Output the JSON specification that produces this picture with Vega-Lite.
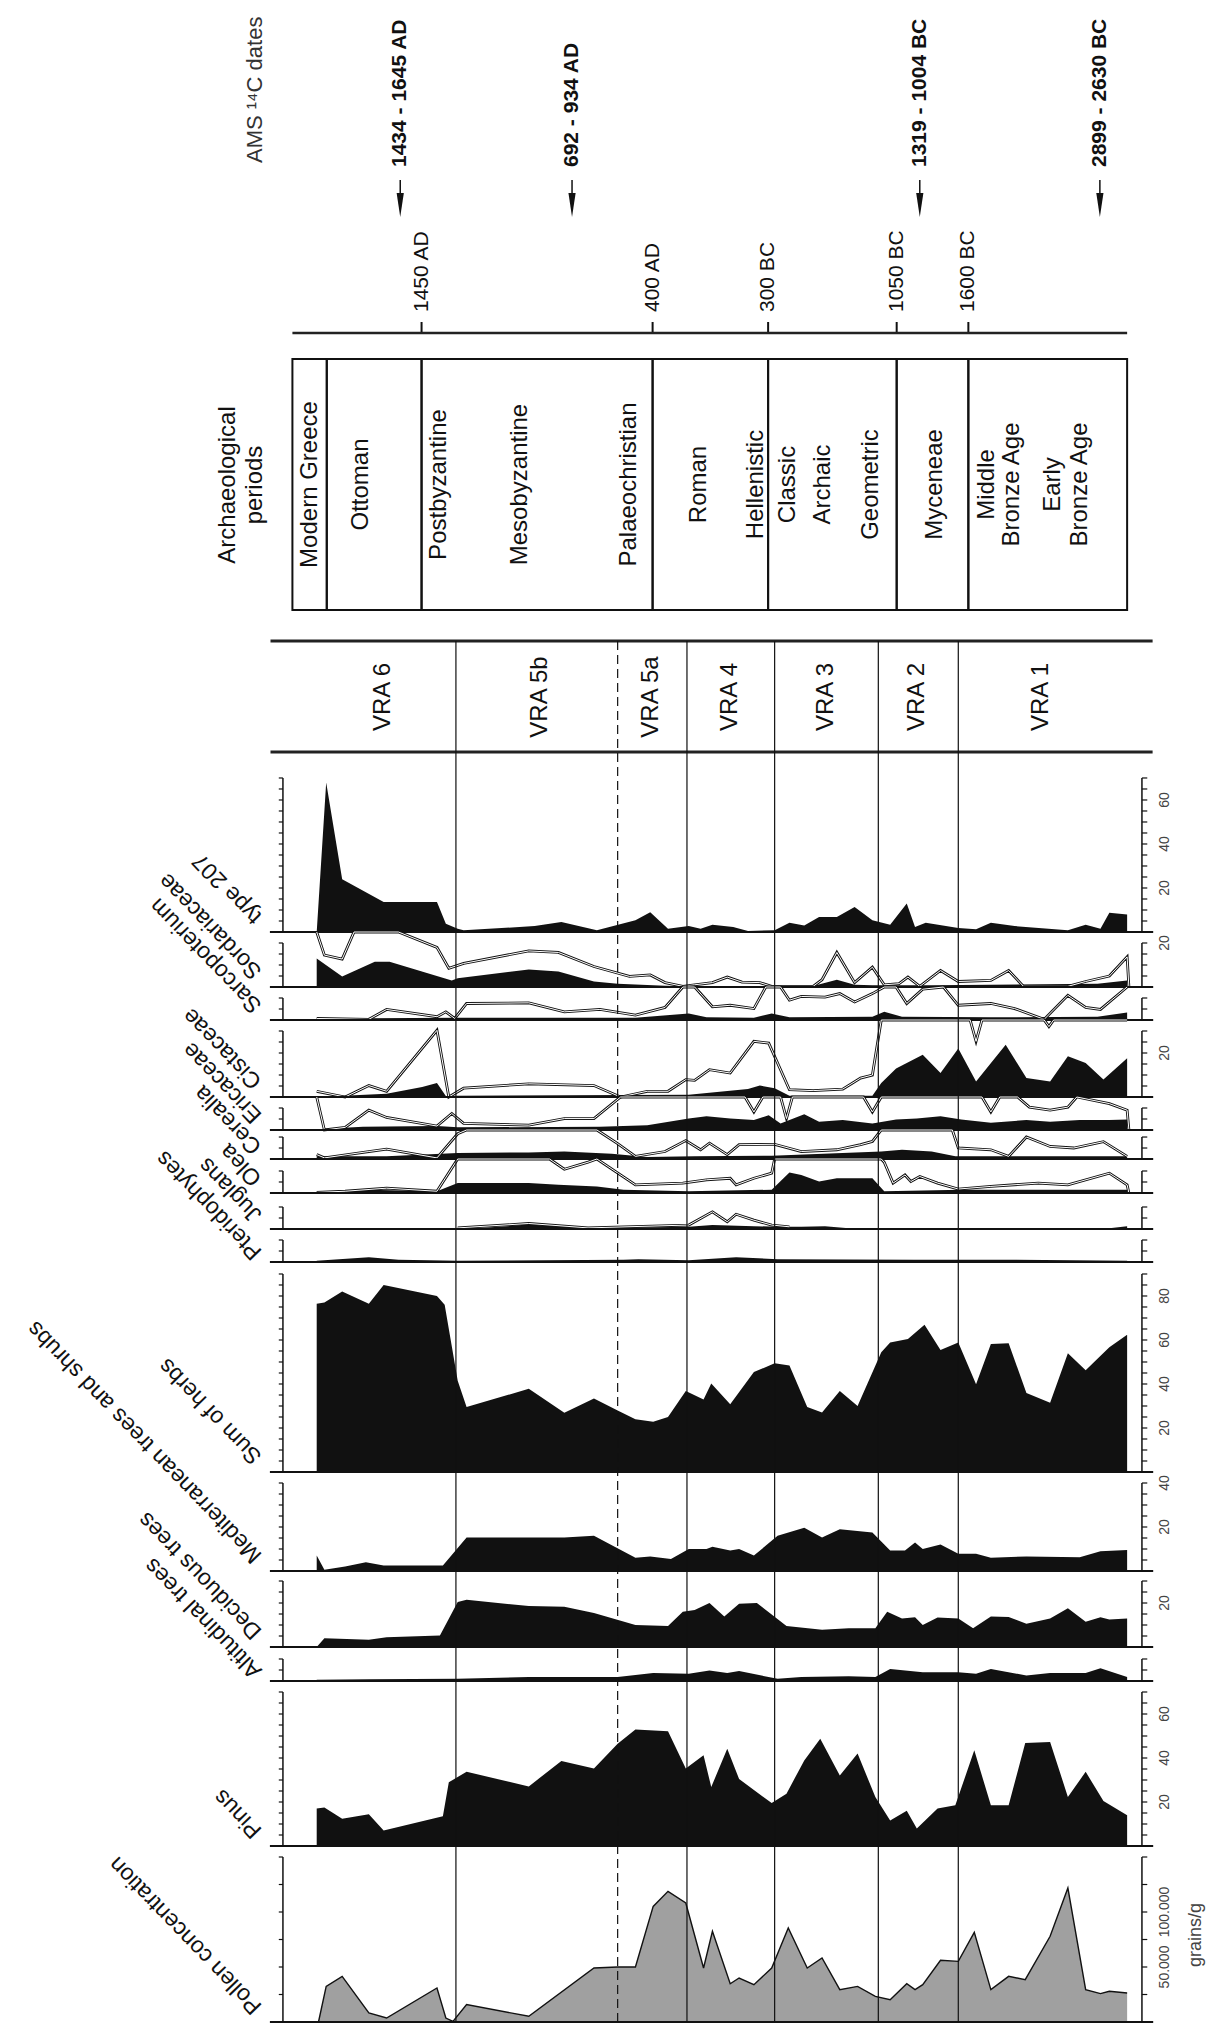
{
"$schema": "https://vega.github.io/schema/vega-lite/v6.json",
"width": 1209,
"height": 2026,
"autosize": {"type": "none"},
"padding": 0,
"background": "white",
"config": {"view": {"stroke": null}, "font": "Liberation Sans", "axis": {"disable": true}, "legend": {"disable": true}},
"resolve": {"scale": {"y": "independent"}},
"datasets": {
"zones": [{"d":297,"s":"solid"},{"d":570,"s":"dashed"},{"d":687,"s":"solid"},{"d":835,"s":"solid"},{"d":1010,"s":"solid"},{"d":1145,"s":"solid"}],
"dates": [{"t":"1434 - 1645 AD","d":203},{"t":"692 - 934 AD","d":493},{"t":"1319 - 1004 BC","d":1080},{"t":"2899 - 2630 BC","d":1384}],
"ages": [{"t":"1450 AD","d":239},{"t":"400 AD","d":629},{"t":"300 BC","d":824},{"t":"1050 BC","d":1041},{"t":"1600 BC","d":1162}],
"cells": [{"c1":21,"c2":79},{"c1":79,"c2":239},{"c1":239,"c2":629},{"c1":629,"c2":824},{"c1":824,"c2":1041},{"c1":1041,"c2":1162},{"c1":1162,"c2":1430}],
"periods": [{"t":"Modern Greece","d":50},{"t":"Ottoman","d":137},{"t":"Postbyzantine","d":269},{"t":"Mesobyzantine","d":406},{"t":"Palaeochristian","d":590},{"t":"Roman","d":708},{"t":"Hellenistic","d":804},{"t":"Classic","d":857},{"t":"Archaic","d":917},{"t":"Geometric","d":998},{"t":"Myceneae","d":1106},{"t":"Middle","d":1193},{"t":"Bronze Age","d":1236},{"t":"Early","d":1305},{"t":"Bronze Age","d":1350}],
"heads": [{"t":"Archaeological","d":-88},{"t":"periods","d":-42}],
"vra": [{"t":"VRA 6","d":174},{"t":"VRA 5b","d":439},{"t":"VRA 5a","d":627},{"t":"VRA 4","d":759},{"t":"VRA 3","d":922},{"t":"VRA 2","d":1075},{"t":"VRA 1","d":1285}],
"area": [
{"p":"t207","d":62,"v":0},{"p":"t207","d":78,"v":68},{"p":"t207","d":105,"v":24},{"p":"t207","d":175,"v":13.6},{"p":"t207","d":265,"v":13.6},{"p":"t207","d":280,"v":3.8},{"p":"t207","d":300,"v":1.5},{"p":"t207","d":310,"v":0.8},{"p":"t207","d":430,"v":2.7},{"p":"t207","d":475,"v":4.5},{"p":"t207","d":535,"v":0.8},{"p":"t207","d":600,"v":5.3},{"p":"t207","d":625,"v":9},{"p":"t207","d":655,"v":1.5},{"p":"t207","d":690,"v":2.7},{"p":"t207","d":710,"v":1.5},{"p":"t207","d":730,"v":3.3},{"p":"t207","d":765,"v":2.3},{"p":"t207","d":790,"v":0.5},{"p":"t207","d":835,"v":0.8},{"p":"t207","d":860,"v":4.2},{"p":"t207","d":885,"v":3},{"p":"t207","d":910,"v":6.8},{"p":"t207","d":940,"v":6.8},{"p":"t207","d":970,"v":11.4},{"p":"t207","d":1000,"v":5.3},{"p":"t207","d":1030,"v":3.3},{"p":"t207","d":1058,"v":12.9},{"p":"t207","d":1072,"v":2.3},{"p":"t207","d":1090,"v":4.2},{"p":"t207","d":1145,"v":1.8},{"p":"t207","d":1175,"v":1.2},{"p":"t207","d":1200,"v":4.2},{"p":"t207","d":1240,"v":2.7},{"p":"t207","d":1330,"v":0.8},{"p":"t207","d":1360,"v":3.3},{"p":"t207","d":1385,"v":1.5},{"p":"t207","d":1400,"v":8.8},{"p":"t207","d":1430,"v":7.9},
{"p":"sord","d":62,"v":13},{"p":"sord","d":105,"v":4.8},{"p":"sord","d":160,"v":11.5},{"p":"sord","d":185,"v":11.5},{"p":"sord","d":290,"v":3},{"p":"sord","d":300,"v":4},{"p":"sord","d":420,"v":8},{"p":"sord","d":470,"v":7},{"p":"sord","d":530,"v":2.5},{"p":"sord","d":570,"v":1.5},{"p":"sord","d":650,"v":0.6},{"p":"sord","d":690,"v":0.3},{"p":"sord","d":900,"v":0.5},{"p":"sord","d":940,"v":3.3},{"p":"sord","d":970,"v":1},{"p":"sord","d":1000,"v":0.8},{"p":"sord","d":1100,"v":0.8},{"p":"sord","d":1200,"v":1},{"p":"sord","d":1380,"v":1.5},{"p":"sord","d":1430,"v":3},
{"p":"sarc","d":62,"v":0.8},{"p":"sarc","d":150,"v":0.8},{"p":"sarc","d":300,"v":1},{"p":"sarc","d":600,"v":1},{"p":"sarc","d":690,"v":3},{"p":"sarc","d":720,"v":1.2},{"p":"sarc","d":800,"v":1},{"p":"sarc","d":830,"v":3},{"p":"sarc","d":860,"v":1.2},{"p":"sarc","d":1000,"v":1.5},{"p":"sarc","d":1020,"v":3.7},{"p":"sarc","d":1050,"v":1.5},{"p":"sarc","d":1200,"v":1.2},{"p":"sarc","d":1380,"v":1.5},{"p":"sarc","d":1430,"v":3.4},
{"p":"cist","d":62,"v":0},{"p":"cist","d":180,"v":1.5},{"p":"cist","d":240,"v":4.5},{"p":"cist","d":265,"v":6.4},{"p":"cist","d":280,"v":0.5},{"p":"cist","d":300,"v":0.6},{"p":"cist","d":690,"v":1},{"p":"cist","d":790,"v":3.6},{"p":"cist","d":810,"v":5.2},{"p":"cist","d":835,"v":4},{"p":"cist","d":860,"v":0.6},{"p":"cist","d":1000,"v":0.6},{"p":"cist","d":1015,"v":6.4},{"p":"cist","d":1040,"v":13},{"p":"cist","d":1085,"v":19.2},{"p":"cist","d":1115,"v":10.9},{"p":"cist","d":1145,"v":22},{"p":"cist","d":1175,"v":7},{"p":"cist","d":1225,"v":23.8},{"p":"cist","d":1260,"v":8.6},{"p":"cist","d":1300,"v":7},{"p":"cist","d":1330,"v":18.5},{"p":"cist","d":1360,"v":15.5},{"p":"cist","d":1390,"v":7.9},{"p":"cist","d":1430,"v":17.6},
{"p":"eric","d":62,"v":0.3},{"p":"eric","d":140,"v":1.5},{"p":"eric","d":265,"v":1.8},{"p":"eric","d":300,"v":1.2},{"p":"eric","d":540,"v":1.5},{"p":"eric","d":620,"v":2.2},{"p":"eric","d":690,"v":5.2},{"p":"eric","d":720,"v":6.3},{"p":"eric","d":760,"v":5.2},{"p":"eric","d":800,"v":4.5},{"p":"eric","d":825,"v":6.7},{"p":"eric","d":845,"v":3},{"p":"eric","d":885,"v":7.2},{"p":"eric","d":910,"v":3.7},{"p":"eric","d":950,"v":4.5},{"p":"eric","d":1000,"v":3},{"p":"eric","d":1040,"v":4.8},{"p":"eric","d":1075,"v":5.2},{"p":"eric","d":1115,"v":6.3},{"p":"eric","d":1150,"v":4.8},{"p":"eric","d":1200,"v":3.3},{"p":"eric","d":1260,"v":4.5},{"p":"eric","d":1300,"v":3.7},{"p":"eric","d":1350,"v":4.5},{"p":"eric","d":1400,"v":4.5},{"p":"eric","d":1430,"v":4.8},
{"p":"cere","d":62,"v":1.2},{"p":"cere","d":180,"v":1.2},{"p":"cere","d":300,"v":2.7},{"p":"cere","d":420,"v":3},{"p":"cere","d":480,"v":3.4},{"p":"cere","d":560,"v":2.4},{"p":"cere","d":620,"v":0.9},{"p":"cere","d":700,"v":1.2},{"p":"cere","d":830,"v":1.5},{"p":"cere","d":1015,"v":3.4},{"p":"cere","d":1050,"v":4.2},{"p":"cere","d":1100,"v":3.4},{"p":"cere","d":1140,"v":1.2},{"p":"cere","d":1250,"v":1.2},{"p":"cere","d":1430,"v":1.2},
{"p":"olea","d":62,"v":0.3},{"p":"olea","d":150,"v":1.5},{"p":"olea","d":265,"v":0.8},{"p":"olea","d":300,"v":4.5},{"p":"olea","d":420,"v":4.5},{"p":"olea","d":470,"v":3.7},{"p":"olea","d":535,"v":3},{"p":"olea","d":580,"v":1.5},{"p":"olea","d":690,"v":0.8},{"p":"olea","d":830,"v":1.5},{"p":"olea","d":860,"v":9.3},{"p":"olea","d":880,"v":8.2},{"p":"olea","d":910,"v":5.2},{"p":"olea","d":940,"v":6.7},{"p":"olea","d":1000,"v":6.7},{"p":"olea","d":1020,"v":0.8},{"p":"olea","d":1150,"v":1.5},{"p":"olea","d":1430,"v":1.5},
{"p":"jugl","d":62,"v":0},{"p":"jugl","d":300,"v":0},{"p":"jugl","d":330,"v":0.3},{"p":"jugl","d":420,"v":2},{"p":"jugl","d":520,"v":0.3},{"p":"jugl","d":690,"v":1},{"p":"jugl","d":730,"v":1.8},{"p":"jugl","d":800,"v":1.3},{"p":"jugl","d":840,"v":1},{"p":"jugl","d":880,"v":1},{"p":"jugl","d":920,"v":1.3},{"p":"jugl","d":960,"v":0.3},{"p":"jugl","d":1400,"v":0.3},{"p":"jugl","d":1430,"v":1.3},
{"p":"pter","d":62,"v":0.6},{"p":"pter","d":150,"v":2.2},{"p":"pter","d":200,"v":1},{"p":"pter","d":300,"v":0.6},{"p":"pter","d":580,"v":1},{"p":"pter","d":605,"v":1.3},{"p":"pter","d":690,"v":0.8},{"p":"pter","d":770,"v":2.2},{"p":"pter","d":840,"v":1.3},{"p":"pter","d":1070,"v":1},{"p":"pter","d":1230,"v":1},{"p":"pter","d":1430,"v":0.6},
{"p":"herb","d":62,"v":76.5},{"p":"herb","d":75,"v":77},{"p":"herb","d":105,"v":82},{"p":"herb","d":150,"v":76.5},{"p":"herb","d":175,"v":85},{"p":"herb","d":265,"v":80},{"p":"herb","d":278,"v":76},{"p":"herb","d":300,"v":41.5},{"p":"herb","d":315,"v":29.5},{"p":"herb","d":420,"v":37.8},{"p":"herb","d":480,"v":26.9},{"p":"herb","d":530,"v":33.4},{"p":"herb","d":570,"v":28},{"p":"herb","d":600,"v":24},{"p":"herb","d":630,"v":22.8},{"p":"herb","d":655,"v":25},{"p":"herb","d":685,"v":36.8},{"p":"herb","d":715,"v":32.9},{"p":"herb","d":728,"v":40.2},{"p":"herb","d":760,"v":30.8},{"p":"herb","d":800,"v":45.4},{"p":"herb","d":835,"v":49.4},{"p":"herb","d":860,"v":48.4},{"p":"herb","d":890,"v":29.6},{"p":"herb","d":915,"v":27.1},{"p":"herb","d":945,"v":36.8},{"p":"herb","d":975,"v":30},{"p":"herb","d":1015,"v":54.4},{"p":"herb","d":1030,"v":58.9},{"p":"herb","d":1060,"v":60.5},{"p":"herb","d":1088,"v":66.9},{"p":"herb","d":1115,"v":55.5},{"p":"herb","d":1145,"v":58.9},{"p":"herb","d":1175,"v":39.9},{"p":"herb","d":1200,"v":58.2},{"p":"herb","d":1230,"v":58.5},{"p":"herb","d":1260,"v":35.9},{"p":"herb","d":1300,"v":31.5},{"p":"herb","d":1330,"v":54},{"p":"herb","d":1360,"v":46.2},{"p":"herb","d":1400,"v":56.7},{"p":"herb","d":1430,"v":62.4},
{"p":"med","d":62,"v":7},{"p":"med","d":75,"v":0.6},{"p":"med","d":110,"v":2},{"p":"med","d":145,"v":4},{"p":"med","d":175,"v":2.5},{"p":"med","d":275,"v":2.5},{"p":"med","d":315,"v":15.2},{"p":"med","d":480,"v":15.2},{"p":"med","d":530,"v":16},{"p":"med","d":600,"v":6},{"p":"med","d":625,"v":6.6},{"p":"med","d":660,"v":5.5},{"p":"med","d":690,"v":10},{"p":"med","d":720,"v":10},{"p":"med","d":730,"v":11},{"p":"med","d":760,"v":9.3},{"p":"med","d":775,"v":10},{"p":"med","d":800,"v":7},{"p":"med","d":840,"v":16},{"p":"med","d":885,"v":19.7},{"p":"med","d":915,"v":15.2},{"p":"med","d":945,"v":19},{"p":"med","d":1000,"v":17.5},{"p":"med","d":1030,"v":9.3},{"p":"med","d":1055,"v":9.3},{"p":"med","d":1072,"v":13},{"p":"med","d":1085,"v":10},{"p":"med","d":1115,"v":12},{"p":"med","d":1145,"v":7.8},{"p":"med","d":1175,"v":7.8},{"p":"med","d":1200,"v":6},{"p":"med","d":1260,"v":6.6},{"p":"med","d":1350,"v":6.3},{"p":"med","d":1385,"v":9},{"p":"med","d":1430,"v":9.6},
{"p":"dec","d":62,"v":0},{"p":"dec","d":75,"v":4},{"p":"dec","d":150,"v":3.3},{"p":"dec","d":180,"v":4.4},{"p":"dec","d":270,"v":5.2},{"p":"dec","d":300,"v":20.5},{"p":"dec","d":315,"v":21.5},{"p":"dec","d":420,"v":18.6},{"p":"dec","d":480,"v":18.3},{"p":"dec","d":530,"v":15.5},{"p":"dec","d":600,"v":10},{"p":"dec","d":655,"v":9.6},{"p":"dec","d":680,"v":16},{"p":"dec","d":700,"v":16.8},{"p":"dec","d":725,"v":20},{"p":"dec","d":750,"v":13.9},{"p":"dec","d":775,"v":19.7},{"p":"dec","d":805,"v":20},{"p":"dec","d":855,"v":9.6},{"p":"dec","d":915,"v":7.8},{"p":"dec","d":960,"v":8.5},{"p":"dec","d":1005,"v":8.5},{"p":"dec","d":1025,"v":16},{"p":"dec","d":1050,"v":13},{"p":"dec","d":1072,"v":13.5},{"p":"dec","d":1085,"v":10},{"p":"dec","d":1110,"v":13.4},{"p":"dec","d":1145,"v":13},{"p":"dec","d":1170,"v":8.5},{"p":"dec","d":1200,"v":13.9},{"p":"dec","d":1230,"v":13.6},{"p":"dec","d":1260,"v":10.6},{"p":"dec","d":1300,"v":13},{"p":"dec","d":1330,"v":17.6},{"p":"dec","d":1360,"v":11.5},{"p":"dec","d":1385,"v":13.5},{"p":"dec","d":1400,"v":12.5},{"p":"dec","d":1430,"v":13},
{"p":"alt","d":62,"v":0.6},{"p":"alt","d":150,"v":0.8},{"p":"alt","d":300,"v":1},{"p":"alt","d":420,"v":1.8},{"p":"alt","d":570,"v":1.8},{"p":"alt","d":630,"v":3.6},{"p":"alt","d":690,"v":3.3},{"p":"alt","d":725,"v":4.8},{"p":"alt","d":755,"v":3.6},{"p":"alt","d":775,"v":4.5},{"p":"alt","d":840,"v":1},{"p":"alt","d":880,"v":1.8},{"p":"alt","d":960,"v":2.2},{"p":"alt","d":1005,"v":1.8},{"p":"alt","d":1030,"v":5.5},{"p":"alt","d":1085,"v":4},{"p":"alt","d":1145,"v":4},{"p":"alt","d":1175,"v":3.3},{"p":"alt","d":1200,"v":5.5},{"p":"alt","d":1260,"v":2.5},{"p":"alt","d":1300,"v":3.6},{"p":"alt","d":1360,"v":3.6},{"p":"alt","d":1385,"v":5.8},{"p":"alt","d":1430,"v":1.8},
{"p":"pinus","d":62,"v":17},{"p":"pinus","d":75,"v":17.5},{"p":"pinus","d":105,"v":12.4},{"p":"pinus","d":150,"v":14.4},{"p":"pinus","d":175,"v":7.1},{"p":"pinus","d":275,"v":13.5},{"p":"pinus","d":285,"v":29},{"p":"pinus","d":315,"v":33.7},{"p":"pinus","d":420,"v":27.1},{"p":"pinus","d":475,"v":38.6},{"p":"pinus","d":530,"v":35.2},{"p":"pinus","d":570,"v":46.5},{"p":"pinus","d":600,"v":52.9},{"p":"pinus","d":655,"v":52.2},{"p":"pinus","d":685,"v":35.2},{"p":"pinus","d":715,"v":41.2},{"p":"pinus","d":728,"v":26.8},{"p":"pinus","d":755,"v":44.2},{"p":"pinus","d":775,"v":30.5},{"p":"pinus","d":830,"v":19.5},{"p":"pinus","d":855,"v":23.8},{"p":"pinus","d":885,"v":38.9},{"p":"pinus","d":912,"v":48.8},{"p":"pinus","d":945,"v":32.1},{"p":"pinus","d":975,"v":42},{"p":"pinus","d":1005,"v":22.3},{"p":"pinus","d":1030,"v":11.6},{"p":"pinus","d":1058,"v":16},{"p":"pinus","d":1075,"v":7.9},{"p":"pinus","d":1110,"v":17},{"p":"pinus","d":1140,"v":18.5},{"p":"pinus","d":1172,"v":43.5},{"p":"pinus","d":1200,"v":18.5},{"p":"pinus","d":1230,"v":18.5},{"p":"pinus","d":1258,"v":46.8},{"p":"pinus","d":1300,"v":47.3},{"p":"pinus","d":1330,"v":22.3},{"p":"pinus","d":1360,"v":33.7},{"p":"pinus","d":1390,"v":20.5},{"p":"pinus","d":1430,"v":14},
{"p":"conc","d":65,"v":0},{"p":"conc","d":78,"v":32400},{"p":"conc","d":105,"v":41500},{"p":"conc","d":150,"v":8200},{"p":"conc","d":180,"v":3600},{"p":"conc","d":265,"v":30900},{"p":"conc","d":280,"v":3600},{"p":"conc","d":292,"v":600},{"p":"conc","d":315,"v":15800},{"p":"conc","d":420,"v":5200},{"p":"conc","d":530,"v":49100},{"p":"conc","d":570,"v":50000},{"p":"conc","d":600,"v":50000},{"p":"conc","d":630,"v":105100},{"p":"conc","d":655,"v":118800},{"p":"conc","d":685,"v":108200},{"p":"conc","d":715,"v":49100},{"p":"conc","d":730,"v":82400},{"p":"conc","d":760,"v":34800},{"p":"conc","d":775,"v":40000},{"p":"conc","d":800,"v":33900},{"p":"conc","d":830,"v":49100},{"p":"conc","d":858,"v":85400},{"p":"conc","d":890,"v":49100},{"p":"conc","d":915,"v":58200},{"p":"conc","d":945,"v":29400},{"p":"conc","d":975,"v":32400},{"p":"conc","d":1005,"v":23300},{"p":"conc","d":1030,"v":20300},{"p":"conc","d":1058,"v":34800},{"p":"conc","d":1072,"v":29400},{"p":"conc","d":1085,"v":33900},{"p":"conc","d":1115,"v":56100},{"p":"conc","d":1145,"v":55100},{"p":"conc","d":1172,"v":81500},{"p":"conc","d":1200,"v":29400},{"p":"conc","d":1230,"v":41500},{"p":"conc","d":1258,"v":38500},{"p":"conc","d":1300,"v":77900},{"p":"conc","d":1330,"v":121800},{"p":"conc","d":1360,"v":29400},{"p":"conc","d":1385,"v":25800},{"p":"conc","d":1400,"v":27900},{"p":"conc","d":1430,"v":26400}
],
"exag": [
{"p":"sord","d":62,"e":30},{"p":"sord","d":75,"e":14.5},{"p":"sord","d":105,"e":12.7},{"p":"sord","d":125,"e":30},{"p":"sord","d":200,"e":30},{"p":"sord","d":265,"e":18},{"p":"sord","d":285,"e":8.5},{"p":"sord","d":310,"e":10.7},{"p":"sord","d":420,"e":16.4},{"p":"sord","d":470,"e":15.7},{"p":"sord","d":530,"e":9.3},{"p":"sord","d":590,"e":4.8},{"p":"sord","d":625,"e":5.5},{"p":"sord","d":650,"e":2},{"p":"sord","d":680,"e":0.3},{"p":"sord","d":700,"e":1},{"p":"sord","d":730,"e":2},{"p":"sord","d":755,"e":4.5},{"p":"sord","d":780,"e":2.2},{"p":"sord","d":810,"e":2},{"p":"sord","d":830,"e":0.3},{"p":"sord","d":900,"e":0.3},{"p":"sord","d":915,"e":3.3},{"p":"sord","d":940,"e":15.7},{"p":"sord","d":970,"e":2},{"p":"sord","d":1000,"e":9},{"p":"sord","d":1020,"e":1},{"p":"sord","d":1045,"e":1.5},{"p":"sord","d":1060,"e":4.5},{"p":"sord","d":1080,"e":0.3},{"p":"sord","d":1115,"e":7.5},{"p":"sord","d":1145,"e":2.5},{"p":"sord","d":1200,"e":3},{"p":"sord","d":1230,"e":7.5},{"p":"sord","d":1255,"e":0.3},{"p":"sord","d":1330,"e":0.3},{"p":"sord","d":1360,"e":2.5},{"p":"sord","d":1400,"e":5},{"p":"sord","d":1430,"e":13.7},{"p":"sord","d":1433,"e":0},
{"p":"sarc","d":62,"e":0.7},{"p":"sarc","d":150,"e":0.3},{"p":"sarc","d":180,"e":4.8},{"p":"sarc","d":265,"e":1.5},{"p":"sarc","d":280,"e":3.7},{"p":"sarc","d":295,"e":0.7},{"p":"sarc","d":315,"e":7.5},{"p":"sarc","d":420,"e":7.8},{"p":"sarc","d":480,"e":3.7},{"p":"sarc","d":540,"e":4.8},{"p":"sarc","d":600,"e":2.2},{"p":"sarc","d":650,"e":5.7},{"p":"sarc","d":680,"e":16},{"p":"sarc","d":700,"e":16},{"p":"sarc","d":730,"e":6},{"p":"sarc","d":760,"e":6.7},{"p":"sarc","d":800,"e":5.2},{"p":"sarc","d":820,"e":16},{"p":"sarc","d":845,"e":16},{"p":"sarc","d":860,"e":9},{"p":"sarc","d":880,"e":10.7},{"p":"sarc","d":920,"e":10.4},{"p":"sarc","d":945,"e":12},{"p":"sarc","d":970,"e":8.2},{"p":"sarc","d":1000,"e":12},{"p":"sarc","d":1020,"e":16},{"p":"sarc","d":1040,"e":16},{"p":"sarc","d":1058,"e":7.5},{"p":"sarc","d":1085,"e":14},{"p":"sarc","d":1120,"e":16},{"p":"sarc","d":1145,"e":6.7},{"p":"sarc","d":1200,"e":7.5},{"p":"sarc","d":1240,"e":5.2},{"p":"sarc","d":1290,"e":0.3},{"p":"sarc","d":1330,"e":11.2},{"p":"sarc","d":1360,"e":5.7},{"p":"sarc","d":1385,"e":4.8},{"p":"sarc","d":1430,"e":16},
{"p":"cist","d":62,"e":2.6},{"p":"cist","d":110,"e":0},{"p":"cist","d":150,"e":5.2},{"p":"cist","d":180,"e":2.6},{"p":"cist","d":265,"e":30.3},{"p":"cist","d":285,"e":0},{"p":"cist","d":310,"e":4},{"p":"cist","d":420,"e":6},{"p":"cist","d":530,"e":5.2},{"p":"cist","d":575,"e":0},{"p":"cist","d":620,"e":2.6},{"p":"cist","d":655,"e":2.6},{"p":"cist","d":685,"e":7.9},{"p":"cist","d":700,"e":7.6},{"p":"cist","d":725,"e":12.4},{"p":"cist","d":760,"e":10.9},{"p":"cist","d":800,"e":25.3},{"p":"cist","d":825,"e":24.5},{"p":"cist","d":860,"e":3.3},{"p":"cist","d":900,"e":2.9},{"p":"cist","d":950,"e":3.6},{"p":"cist","d":980,"e":8.6},{"p":"cist","d":1000,"e":10},{"p":"cist","d":1015,"e":40},{"p":"cist","d":1165,"e":40},{"p":"cist","d":1175,"e":25.3},{"p":"cist","d":1185,"e":40},{"p":"cist","d":1290,"e":40},{"p":"cist","d":1298,"e":32},{"p":"cist","d":1306,"e":40},{"p":"cist","d":1430,"e":40},
{"p":"eric","d":62,"e":16},{"p":"eric","d":75,"e":0},{"p":"eric","d":110,"e":1.2},{"p":"eric","d":150,"e":9},{"p":"eric","d":180,"e":5.7},{"p":"eric","d":265,"e":1.8},{"p":"eric","d":290,"e":7.5},{"p":"eric","d":310,"e":3},{"p":"eric","d":420,"e":2.2},{"p":"eric","d":480,"e":5.2},{"p":"eric","d":530,"e":5.2},{"p":"eric","d":575,"e":16},{"p":"eric","d":785,"e":16},{"p":"eric","d":800,"e":8.2},{"p":"eric","d":815,"e":16},{"p":"eric","d":845,"e":16},{"p":"eric","d":855,"e":5.2},{"p":"eric","d":865,"e":16},{"p":"eric","d":985,"e":16},{"p":"eric","d":1000,"e":8.2},{"p":"eric","d":1015,"e":16},{"p":"eric","d":1185,"e":16},{"p":"eric","d":1200,"e":8.2},{"p":"eric","d":1215,"e":16},{"p":"eric","d":1245,"e":16},{"p":"eric","d":1265,"e":10.4},{"p":"eric","d":1300,"e":9},{"p":"eric","d":1330,"e":10.4},{"p":"eric","d":1345,"e":16},{"p":"eric","d":1400,"e":12},{"p":"eric","d":1430,"e":9},{"p":"eric","d":1433,"e":0},
{"p":"cere","d":62,"e":2},{"p":"cere","d":75,"e":0.5},{"p":"cere","d":150,"e":3.4},{"p":"cere","d":180,"e":4.5},{"p":"cere","d":265,"e":0.5},{"p":"cere","d":300,"e":11.5},{"p":"cere","d":315,"e":15},{"p":"cere","d":535,"e":15},{"p":"cere","d":570,"e":7},{"p":"cere","d":600,"e":1.2},{"p":"cere","d":650,"e":3.4},{"p":"cere","d":685,"e":8.4},{"p":"cere","d":710,"e":4.2},{"p":"cere","d":725,"e":7.2},{"p":"cere","d":755,"e":2},{"p":"cere","d":775,"e":6.5},{"p":"cere","d":835,"e":6.7},{"p":"cere","d":880,"e":3.4},{"p":"cere","d":940,"e":4.2},{"p":"cere","d":980,"e":6.5},{"p":"cere","d":1000,"e":8},{"p":"cere","d":1015,"e":15},{"p":"cere","d":1135,"e":15},{"p":"cere","d":1145,"e":5},{"p":"cere","d":1200,"e":4.2},{"p":"cere","d":1230,"e":1.2},{"p":"cere","d":1260,"e":10},{"p":"cere","d":1300,"e":5.7},{"p":"cere","d":1340,"e":5},{"p":"cere","d":1390,"e":7.9},{"p":"cere","d":1430,"e":1.2},
{"p":"olea","d":62,"e":0.3},{"p":"olea","d":110,"e":0.8},{"p":"olea","d":180,"e":2.2},{"p":"olea","d":265,"e":0.8},{"p":"olea","d":300,"e":17},{"p":"olea","d":455,"e":17},{"p":"olea","d":480,"e":10.8},{"p":"olea","d":520,"e":14},{"p":"olea","d":535,"e":17},{"p":"olea","d":600,"e":3.7},{"p":"olea","d":680,"e":4.5},{"p":"olea","d":720,"e":6},{"p":"olea","d":760,"e":6.7},{"p":"olea","d":770,"e":3.7},{"p":"olea","d":800,"e":6.7},{"p":"olea","d":830,"e":9},{"p":"olea","d":835,"e":17},{"p":"olea","d":1015,"e":17},{"p":"olea","d":1020,"e":14},{"p":"olea","d":1035,"e":4.5},{"p":"olea","d":1055,"e":8.2},{"p":"olea","d":1065,"e":5.2},{"p":"olea","d":1080,"e":7.5},{"p":"olea","d":1110,"e":4.5},{"p":"olea","d":1145,"e":1.8},{"p":"olea","d":1200,"e":3},{"p":"olea","d":1280,"e":4.5},{"p":"olea","d":1330,"e":3.7},{"p":"olea","d":1400,"e":9},{"p":"olea","d":1430,"e":3.7},{"p":"olea","d":1433,"e":0},
{"p":"jugl","d":300,"e":0.5},{"p":"jugl","d":420,"e":2.5},{"p":"jugl","d":520,"e":0.5},{"p":"jugl","d":690,"e":1.8},{"p":"jugl","d":730,"e":7.8},{"p":"jugl","d":755,"e":3.3},{"p":"jugl","d":770,"e":6.7},{"p":"jugl","d":800,"e":4},{"p":"jugl","d":830,"e":1.8},{"p":"jugl","d":860,"e":1}
],
"ticks": [
{"p":"t207","v":0},{"p":"t207","v":5},{"p":"t207","v":10},{"p":"t207","v":15},{"p":"t207","v":20,"lab":"20"},{"p":"t207","v":25},{"p":"t207","v":30},{"p":"t207","v":35},{"p":"t207","v":40,"lab":"40"},{"p":"t207","v":45},{"p":"t207","v":50},{"p":"t207","v":55},{"p":"t207","v":60,"lab":"60"},{"p":"t207","v":65},{"p":"t207","v":70},
{"p":"sord","v":0},{"p":"sord","v":5},{"p":"sord","v":10},{"p":"sord","v":15},{"p":"sord","v":20,"lab":"20"},
{"p":"sarc","v":0},{"p":"sarc","v":5},{"p":"sarc","v":10},
{"p":"cist","v":0},{"p":"cist","v":5},{"p":"cist","v":10},{"p":"cist","v":15},{"p":"cist","v":20,"lab":"20"},{"p":"cist","v":25},{"p":"cist","v":30},
{"p":"eric","v":0},{"p":"eric","v":5},{"p":"eric","v":10},
{"p":"cere","v":0},{"p":"cere","v":5},{"p":"cere","v":10},
{"p":"olea","v":0},{"p":"olea","v":5},{"p":"olea","v":10},
{"p":"jugl","v":0},{"p":"jugl","v":5},{"p":"jugl","v":10},
{"p":"pter","v":0},{"p":"pter","v":5},{"p":"pter","v":10},
{"p":"herb","v":0},{"p":"herb","v":5},{"p":"herb","v":10},{"p":"herb","v":15},{"p":"herb","v":20,"lab":"20"},{"p":"herb","v":25},{"p":"herb","v":30},{"p":"herb","v":35},{"p":"herb","v":40,"lab":"40"},{"p":"herb","v":45},{"p":"herb","v":50},{"p":"herb","v":55},{"p":"herb","v":60,"lab":"60"},{"p":"herb","v":65},{"p":"herb","v":70},{"p":"herb","v":75},{"p":"herb","v":80,"lab":"80"},{"p":"herb","v":85},{"p":"herb","v":90},
{"p":"med","v":0},{"p":"med","v":5},{"p":"med","v":10},{"p":"med","v":15},{"p":"med","v":20,"lab":"20"},{"p":"med","v":25},{"p":"med","v":30},{"p":"med","v":35},{"p":"med","v":40,"lab":"40"},
{"p":"dec","v":0},{"p":"dec","v":5},{"p":"dec","v":10},{"p":"dec","v":15},{"p":"dec","v":20,"lab":"20"},{"p":"dec","v":25},{"p":"dec","v":30},
{"p":"alt","v":0},{"p":"alt","v":5},{"p":"alt","v":10},
{"p":"pinus","v":0},{"p":"pinus","v":5},{"p":"pinus","v":10},{"p":"pinus","v":15},{"p":"pinus","v":20,"lab":"20"},{"p":"pinus","v":25},{"p":"pinus","v":30},{"p":"pinus","v":35},{"p":"pinus","v":40,"lab":"40"},{"p":"pinus","v":45},{"p":"pinus","v":50},{"p":"pinus","v":55},{"p":"pinus","v":60,"lab":"60"},{"p":"pinus","v":65},{"p":"pinus","v":70},
{"p":"conc","v":0},{"p":"conc","v":25000},{"p":"conc","v":50000,"lab":"50.000"},{"p":"conc","v":75000},{"p":"conc","v":100000,"lab":"100.000"},{"p":"conc","v":125000},{"p":"conc","v":150000}
]
},
"layer": [
{"layer": [
 {"data":{"values":[{}]},"mark":{"type":"text","angle":270,"align":"left","baseline":"middle","fontSize":22,"color":"#333"},"encoding":{"x":{"datum":-42,"type":"quantitative","scale":{"domain":[-472.6,1568.2],"nice":false,"zero":false},"axis":null},"y":{"datum":163,"type":"quantitative","scale":{"domain":[0,2026],"range":[0,2026],"nice":false},"axis":null},"text":{"value":"AMS ¹⁴C dates"}}},
 {"data":{"name":"dates"},"mark":{"type":"text","angle":270,"align":"left","baseline":"middle","fontSize":21,"fontWeight":"bold","color":"#111"},"encoding":{"x":{"field":"d","type":"quantitative"},"y":{"datum":167,"type":"quantitative"},"text":{"field":"t"}}},
 {"data":{"name":"dates"},"mark":{"type":"rule","strokeWidth":1.5,"color":"#111"},"encoding":{"x":{"field":"d","type":"quantitative"},"y":{"datum":180,"type":"quantitative"},"y2":{"datum":200}}},
 {"data":{"name":"dates"},"mark":{"type":"point","shape":"M-0.3,-1L0.3,-1L0,1Z","size":576,"filled":true,"color":"#111","opacity":1},"encoding":{"x":{"field":"d","type":"quantitative"},"y":{"datum":205,"type":"quantitative"}}},
 {"data":{"name":"ages"},"mark":{"type":"text","angle":270,"align":"left","baseline":"middle","fontSize":21,"color":"#111"},"encoding":{"x":{"field":"d","type":"quantitative"},"y":{"datum":312,"type":"quantitative"},"text":{"field":"t"}}},
 {"data":{"name":"ages"},"mark":{"type":"rule","strokeWidth":2,"color":"#111"},"encoding":{"x":{"field":"d","type":"quantitative"},"y":{"datum":322,"type":"quantitative"},"y2":{"datum":333}}},
 {"data":{"values":[{}]},"mark":{"type":"rule","strokeWidth":2.5,"color":"#222"},"encoding":{"x":{"datum":21,"type":"quantitative"},"x2":{"datum":1430},"y":{"datum":333,"type":"quantitative"}}},
 {"data":{"name":"cells"},"mark":{"type":"rect","filled":false,"color":"#111","strokeWidth":2},"encoding":{"x":{"field":"c1","type":"quantitative"},"x2":{"field":"c2"},"y":{"datum":359,"type":"quantitative"},"y2":{"datum":610}}},
 {"data":{"name":"periods"},"mark":{"type":"text","angle":270,"align":"center","baseline":"middle","fontSize":24,"color":"#111"},"encoding":{"x":{"field":"d","type":"quantitative"},"y":{"datum":484.5,"type":"quantitative"},"text":{"field":"t"}}},
 {"data":{"name":"heads"},"mark":{"type":"text","angle":270,"align":"center","baseline":"middle","fontSize":24,"color":"#111"},"encoding":{"x":{"field":"d","type":"quantitative"},"y":{"datum":485,"type":"quantitative"},"text":{"field":"t"}}},
 {"data":{"values":[{}]},"mark":{"type":"rule","strokeWidth":3,"color":"#222"},"encoding":{"x":{"datum":-16,"type":"quantitative"},"x2":{"datum":1473},"y":{"datum":641,"type":"quantitative"}}},
 {"data":{"values":[{}]},"mark":{"type":"rule","strokeWidth":3,"color":"#222"},"encoding":{"x":{"datum":-16,"type":"quantitative"},"x2":{"datum":1473},"y":{"datum":752,"type":"quantitative"}}},
 {"data":{"name":"vra"},"mark":{"type":"text","angle":270,"align":"center","baseline":"middle","fontSize":24,"color":"#111"},"encoding":{"x":{"field":"d","type":"quantitative"},"y":{"datum":697,"type":"quantitative"},"text":{"field":"t"}}}
]},
{"layer": [
 {"data":{"name":"area"},"transform":[{"filter":"datum.p==='t207'"}],"mark":{"type":"area","color":"#111"},"encoding":{"x":{"field":"d","type":"quantitative"},"y":{"field":"v","type":"quantitative","scale":{"domain":[0,70.9],"range":[932,776],"nice":false},"axis":null}}},
 {"data":{"values":[{}]},"mark":{"type":"rule","color":"#111","strokeWidth":2},"encoding":{"x":{"datum":-17,"type":"quantitative"},"x2":{"datum":1474},"y":{"datum":0,"type":"quantitative"}}},
 {"data":{"values":[{}]},"mark":{"type":"rule","color":"#111","strokeWidth":1.5},"encoding":{"x":{"datum":1455,"type":"quantitative"},"y":{"datum":0,"type":"quantitative"},"y2":{"datum":70}}},
 {"data":{"values":[{}]},"mark":{"type":"rule","color":"#111","strokeWidth":1.5},"encoding":{"x":{"datum":5,"type":"quantitative"},"y":{"datum":0,"type":"quantitative"},"y2":{"datum":70}}},
 {"data":{"name":"ticks"},"transform":[{"filter":"datum.p==='t207'"}],"mark":{"type":"rule","color":"#111","strokeWidth":1.2},"encoding":{"x":{"datum":1455,"type":"quantitative"},"x2":{"datum":1464},"y":{"field":"v","type":"quantitative"}}},
 {"data":{"name":"ticks"},"transform":[{"filter":"datum.p==='t207'"}],"mark":{"type":"rule","color":"#111","strokeWidth":1.2},"encoding":{"x":{"datum":5,"type":"quantitative"},"x2":{"datum":-2},"y":{"field":"v","type":"quantitative"}}},
 {"data":{"name":"ticks"},"transform":[{"filter":"datum.p==='t207' && isValid(datum.lab)"}],"mark":{"type":"text","angle":270,"fontSize":14,"color":"#444","align":"center","baseline":"middle"},"encoding":{"x":{"datum":1494,"type":"quantitative"},"y":{"field":"v","type":"quantitative"},"text":{"field":"lab"}}},
 {"data":{"values":[{}]},"mark":{"type":"text","angle":226,"fontSize":23,"align":"left","baseline":"alphabetic","color":"#111"},"encoding":{"x":{"datum":-29,"type":"quantitative"},"y":{"datum":7.5,"type":"quantitative"},"text":{"value":"type 207"}}}
]},
{"layer": [
 {"data":{"name":"area"},"transform":[{"filter":"datum.p==='sord'"}],"mark":{"type":"area","color":"#111"},"encoding":{"x":{"field":"d","type":"quantitative"},"y":{"field":"v","type":"quantitative","scale":{"domain":[0,25],"range":[987,932],"clamp":true,"nice":false},"axis":null}}},
 {"data":{"name":"exag"},"transform":[{"filter":"datum.p==='sord'"}],"mark":{"type":"line","color":"#111","strokeWidth":2.8},"encoding":{"x":{"field":"d","type":"quantitative"},"y":{"field":"e","type":"quantitative"}}},
 {"data":{"name":"exag"},"transform":[{"filter":"datum.p==='sord'"}],"mark":{"type":"line","color":"white","strokeWidth":1},"encoding":{"x":{"field":"d","type":"quantitative"},"y":{"field":"e","type":"quantitative"}}},
 {"data":{"values":[{}]},"mark":{"type":"rule","color":"#111","strokeWidth":2},"encoding":{"x":{"datum":-17,"type":"quantitative"},"x2":{"datum":1474},"y":{"datum":0,"type":"quantitative"}}},
 {"data":{"values":[{}]},"mark":{"type":"rule","color":"#111","strokeWidth":1.5},"encoding":{"x":{"datum":1455,"type":"quantitative"},"y":{"datum":0,"type":"quantitative"},"y2":{"datum":20}}},
 {"data":{"values":[{}]},"mark":{"type":"rule","color":"#111","strokeWidth":1.5},"encoding":{"x":{"datum":5,"type":"quantitative"},"y":{"datum":0,"type":"quantitative"},"y2":{"datum":20}}},
 {"data":{"name":"ticks"},"transform":[{"filter":"datum.p==='sord'"}],"mark":{"type":"rule","color":"#111","strokeWidth":1.2},"encoding":{"x":{"datum":1455,"type":"quantitative"},"x2":{"datum":1464},"y":{"field":"v","type":"quantitative"}}},
 {"data":{"name":"ticks"},"transform":[{"filter":"datum.p==='sord'"}],"mark":{"type":"rule","color":"#111","strokeWidth":1.2},"encoding":{"x":{"datum":5,"type":"quantitative"},"x2":{"datum":-2},"y":{"field":"v","type":"quantitative"}}},
 {"data":{"name":"ticks"},"transform":[{"filter":"datum.p==='sord' && isValid(datum.lab)"}],"mark":{"type":"text","angle":270,"fontSize":14,"color":"#444","align":"center","baseline":"middle"},"encoding":{"x":{"datum":1494,"type":"quantitative"},"y":{"field":"v","type":"quantitative"},"text":{"field":"lab"}}},
 {"data":{"values":[{}]},"mark":{"type":"text","angle":226,"fontSize":23,"align":"left","baseline":"alphabetic","color":"#111"},"encoding":{"x":{"datum":-29,"type":"quantitative"},"y":{"datum":7.5,"type":"quantitative"},"text":{"value":"Sordariaceae"}}}
]},
{"layer": [
 {"data":{"name":"area"},"transform":[{"filter":"datum.p==='sarc'"}],"mark":{"type":"area","color":"#111"},"encoding":{"x":{"field":"d","type":"quantitative"},"y":{"field":"v","type":"quantitative","scale":{"domain":[0,15],"range":[1020,987],"clamp":true,"nice":false},"axis":null}}},
 {"data":{"name":"exag"},"transform":[{"filter":"datum.p==='sarc'"}],"mark":{"type":"line","color":"#111","strokeWidth":2.8},"encoding":{"x":{"field":"d","type":"quantitative"},"y":{"field":"e","type":"quantitative"}}},
 {"data":{"name":"exag"},"transform":[{"filter":"datum.p==='sarc'"}],"mark":{"type":"line","color":"white","strokeWidth":1},"encoding":{"x":{"field":"d","type":"quantitative"},"y":{"field":"e","type":"quantitative"}}},
 {"data":{"values":[{}]},"mark":{"type":"rule","color":"#111","strokeWidth":2},"encoding":{"x":{"datum":-17,"type":"quantitative"},"x2":{"datum":1474},"y":{"datum":0,"type":"quantitative"}}},
 {"data":{"values":[{}]},"mark":{"type":"rule","color":"#111","strokeWidth":1.5},"encoding":{"x":{"datum":1455,"type":"quantitative"},"y":{"datum":0,"type":"quantitative"},"y2":{"datum":10}}},
 {"data":{"values":[{}]},"mark":{"type":"rule","color":"#111","strokeWidth":1.5},"encoding":{"x":{"datum":5,"type":"quantitative"},"y":{"datum":0,"type":"quantitative"},"y2":{"datum":10}}},
 {"data":{"name":"ticks"},"transform":[{"filter":"datum.p==='sarc'"}],"mark":{"type":"rule","color":"#111","strokeWidth":1.2},"encoding":{"x":{"datum":1455,"type":"quantitative"},"x2":{"datum":1464},"y":{"field":"v","type":"quantitative"}}},
 {"data":{"name":"ticks"},"transform":[{"filter":"datum.p==='sarc'"}],"mark":{"type":"rule","color":"#111","strokeWidth":1.2},"encoding":{"x":{"datum":5,"type":"quantitative"},"x2":{"datum":-2},"y":{"field":"v","type":"quantitative"}}},
 {"data":{"values":[{}]},"mark":{"type":"text","angle":226,"fontSize":23,"align":"left","baseline":"alphabetic","color":"#111"},"encoding":{"x":{"datum":-29,"type":"quantitative"},"y":{"datum":7,"type":"quantitative"},"text":{"value":"Sarcopoterium"}}}
]},
{"layer": [
 {"data":{"name":"area"},"transform":[{"filter":"datum.p==='cist'"}],"mark":{"type":"area","color":"#111"},"encoding":{"x":{"field":"d","type":"quantitative"},"y":{"field":"v","type":"quantitative","scale":{"domain":[0,35],"range":[1097,1020],"clamp":true,"nice":false},"axis":null}}},
 {"data":{"name":"exag"},"transform":[{"filter":"datum.p==='cist'"}],"mark":{"type":"line","color":"#111","strokeWidth":2.8},"encoding":{"x":{"field":"d","type":"quantitative"},"y":{"field":"e","type":"quantitative"}}},
 {"data":{"name":"exag"},"transform":[{"filter":"datum.p==='cist'"}],"mark":{"type":"line","color":"white","strokeWidth":1},"encoding":{"x":{"field":"d","type":"quantitative"},"y":{"field":"e","type":"quantitative"}}},
 {"data":{"values":[{}]},"mark":{"type":"rule","color":"#111","strokeWidth":2},"encoding":{"x":{"datum":-17,"type":"quantitative"},"x2":{"datum":1474},"y":{"datum":0,"type":"quantitative"}}},
 {"data":{"values":[{}]},"mark":{"type":"rule","color":"#111","strokeWidth":1.5},"encoding":{"x":{"datum":1455,"type":"quantitative"},"y":{"datum":0,"type":"quantitative"},"y2":{"datum":30}}},
 {"data":{"values":[{}]},"mark":{"type":"rule","color":"#111","strokeWidth":1.5},"encoding":{"x":{"datum":5,"type":"quantitative"},"y":{"datum":0,"type":"quantitative"},"y2":{"datum":30}}},
 {"data":{"name":"ticks"},"transform":[{"filter":"datum.p==='cist'"}],"mark":{"type":"rule","color":"#111","strokeWidth":1.2},"encoding":{"x":{"datum":1455,"type":"quantitative"},"x2":{"datum":1464},"y":{"field":"v","type":"quantitative"}}},
 {"data":{"name":"ticks"},"transform":[{"filter":"datum.p==='cist'"}],"mark":{"type":"rule","color":"#111","strokeWidth":1.2},"encoding":{"x":{"datum":5,"type":"quantitative"},"x2":{"datum":-2},"y":{"field":"v","type":"quantitative"}}},
 {"data":{"name":"ticks"},"transform":[{"filter":"datum.p==='cist' && isValid(datum.lab)"}],"mark":{"type":"text","angle":270,"fontSize":14,"color":"#444","align":"center","baseline":"middle"},"encoding":{"x":{"datum":1494,"type":"quantitative"},"y":{"field":"v","type":"quantitative"},"text":{"field":"lab"}}},
 {"data":{"values":[{}]},"mark":{"type":"text","angle":226,"fontSize":23,"align":"left","baseline":"alphabetic","color":"#111"},"encoding":{"x":{"datum":-29,"type":"quantitative"},"y":{"datum":7.5,"type":"quantitative"},"text":{"value":"Cistaceae"}}}
]},
{"layer": [
 {"data":{"name":"area"},"transform":[{"filter":"datum.p==='eric'"}],"mark":{"type":"area","color":"#111"},"encoding":{"x":{"field":"d","type":"quantitative"},"y":{"field":"v","type":"quantitative","scale":{"domain":[0,15],"range":[1130,1097],"clamp":true,"nice":false},"axis":null}}},
 {"data":{"name":"exag"},"transform":[{"filter":"datum.p==='eric'"}],"mark":{"type":"line","color":"#111","strokeWidth":2.8},"encoding":{"x":{"field":"d","type":"quantitative"},"y":{"field":"e","type":"quantitative"}}},
 {"data":{"name":"exag"},"transform":[{"filter":"datum.p==='eric'"}],"mark":{"type":"line","color":"white","strokeWidth":1},"encoding":{"x":{"field":"d","type":"quantitative"},"y":{"field":"e","type":"quantitative"}}},
 {"data":{"values":[{}]},"mark":{"type":"rule","color":"#111","strokeWidth":2},"encoding":{"x":{"datum":-17,"type":"quantitative"},"x2":{"datum":1474},"y":{"datum":0,"type":"quantitative"}}},
 {"data":{"values":[{}]},"mark":{"type":"rule","color":"#111","strokeWidth":1.5},"encoding":{"x":{"datum":1455,"type":"quantitative"},"y":{"datum":0,"type":"quantitative"},"y2":{"datum":10}}},
 {"data":{"values":[{}]},"mark":{"type":"rule","color":"#111","strokeWidth":1.5},"encoding":{"x":{"datum":5,"type":"quantitative"},"y":{"datum":0,"type":"quantitative"},"y2":{"datum":10}}},
 {"data":{"name":"ticks"},"transform":[{"filter":"datum.p==='eric'"}],"mark":{"type":"rule","color":"#111","strokeWidth":1.2},"encoding":{"x":{"datum":1455,"type":"quantitative"},"x2":{"datum":1464},"y":{"field":"v","type":"quantitative"}}},
 {"data":{"name":"ticks"},"transform":[{"filter":"datum.p==='eric'"}],"mark":{"type":"rule","color":"#111","strokeWidth":1.2},"encoding":{"x":{"datum":5,"type":"quantitative"},"x2":{"datum":-2},"y":{"field":"v","type":"quantitative"}}},
 {"data":{"values":[{}]},"mark":{"type":"text","angle":226,"fontSize":23,"align":"left","baseline":"alphabetic","color":"#111"},"encoding":{"x":{"datum":-29,"type":"quantitative"},"y":{"datum":7,"type":"quantitative"},"text":{"value":"Ericaceae"}}}
]},
{"layer": [
 {"data":{"name":"area"},"transform":[{"filter":"datum.p==='cere'"}],"mark":{"type":"area","color":"#111"},"encoding":{"x":{"field":"d","type":"quantitative"},"y":{"field":"v","type":"quantitative","scale":{"domain":[0,13.2],"range":[1159,1130],"clamp":true,"nice":false},"axis":null}}},
 {"data":{"name":"exag"},"transform":[{"filter":"datum.p==='cere'"}],"mark":{"type":"line","color":"#111","strokeWidth":2.8},"encoding":{"x":{"field":"d","type":"quantitative"},"y":{"field":"e","type":"quantitative"}}},
 {"data":{"name":"exag"},"transform":[{"filter":"datum.p==='cere'"}],"mark":{"type":"line","color":"white","strokeWidth":1},"encoding":{"x":{"field":"d","type":"quantitative"},"y":{"field":"e","type":"quantitative"}}},
 {"data":{"values":[{}]},"mark":{"type":"rule","color":"#111","strokeWidth":2},"encoding":{"x":{"datum":-17,"type":"quantitative"},"x2":{"datum":1474},"y":{"datum":0,"type":"quantitative"}}},
 {"data":{"values":[{}]},"mark":{"type":"rule","color":"#111","strokeWidth":1.5},"encoding":{"x":{"datum":1455,"type":"quantitative"},"y":{"datum":0,"type":"quantitative"},"y2":{"datum":10}}},
 {"data":{"values":[{}]},"mark":{"type":"rule","color":"#111","strokeWidth":1.5},"encoding":{"x":{"datum":5,"type":"quantitative"},"y":{"datum":0,"type":"quantitative"},"y2":{"datum":10}}},
 {"data":{"name":"ticks"},"transform":[{"filter":"datum.p==='cere'"}],"mark":{"type":"rule","color":"#111","strokeWidth":1.2},"encoding":{"x":{"datum":1455,"type":"quantitative"},"x2":{"datum":1464},"y":{"field":"v","type":"quantitative"}}},
 {"data":{"name":"ticks"},"transform":[{"filter":"datum.p==='cere'"}],"mark":{"type":"rule","color":"#111","strokeWidth":1.2},"encoding":{"x":{"datum":5,"type":"quantitative"},"x2":{"datum":-2},"y":{"field":"v","type":"quantitative"}}},
 {"data":{"values":[{}]},"mark":{"type":"text","angle":226,"fontSize":23,"align":"left","baseline":"alphabetic","color":"#111"},"encoding":{"x":{"datum":-29,"type":"quantitative"},"y":{"datum":6,"type":"quantitative"},"text":{"value":"Cerealia"}}}
]},
{"layer": [
 {"data":{"name":"area"},"transform":[{"filter":"datum.p==='olea'"}],"mark":{"type":"area","color":"#111"},"encoding":{"x":{"field":"d","type":"quantitative"},"y":{"field":"v","type":"quantitative","scale":{"domain":[0,15.45],"range":[1193,1159],"clamp":true,"nice":false},"axis":null}}},
 {"data":{"name":"exag"},"transform":[{"filter":"datum.p==='olea'"}],"mark":{"type":"line","color":"#111","strokeWidth":2.8},"encoding":{"x":{"field":"d","type":"quantitative"},"y":{"field":"e","type":"quantitative"}}},
 {"data":{"name":"exag"},"transform":[{"filter":"datum.p==='olea'"}],"mark":{"type":"line","color":"white","strokeWidth":1},"encoding":{"x":{"field":"d","type":"quantitative"},"y":{"field":"e","type":"quantitative"}}},
 {"data":{"values":[{}]},"mark":{"type":"rule","color":"#111","strokeWidth":2},"encoding":{"x":{"datum":-17,"type":"quantitative"},"x2":{"datum":1474},"y":{"datum":0,"type":"quantitative"}}},
 {"data":{"values":[{}]},"mark":{"type":"rule","color":"#111","strokeWidth":1.5},"encoding":{"x":{"datum":1455,"type":"quantitative"},"y":{"datum":0,"type":"quantitative"},"y2":{"datum":10}}},
 {"data":{"values":[{}]},"mark":{"type":"rule","color":"#111","strokeWidth":1.5},"encoding":{"x":{"datum":5,"type":"quantitative"},"y":{"datum":0,"type":"quantitative"},"y2":{"datum":10}}},
 {"data":{"name":"ticks"},"transform":[{"filter":"datum.p==='olea'"}],"mark":{"type":"rule","color":"#111","strokeWidth":1.2},"encoding":{"x":{"datum":1455,"type":"quantitative"},"x2":{"datum":1464},"y":{"field":"v","type":"quantitative"}}},
 {"data":{"name":"ticks"},"transform":[{"filter":"datum.p==='olea'"}],"mark":{"type":"rule","color":"#111","strokeWidth":1.2},"encoding":{"x":{"datum":5,"type":"quantitative"},"x2":{"datum":-2},"y":{"field":"v","type":"quantitative"}}},
 {"data":{"values":[{}]},"mark":{"type":"text","angle":226,"fontSize":23,"align":"left","baseline":"alphabetic","color":"#111"},"encoding":{"x":{"datum":-29,"type":"quantitative"},"y":{"datum":7,"type":"quantitative"},"text":{"value":"Olea"}}}
]},
{"layer": [
 {"data":{"name":"area"},"transform":[{"filter":"datum.p==='jugl'"}],"mark":{"type":"area","color":"#111"},"encoding":{"x":{"field":"d","type":"quantitative"},"y":{"field":"v","type":"quantitative","scale":{"domain":[0,16.36],"range":[1229,1193],"clamp":true,"nice":false},"axis":null}}},
 {"data":{"name":"exag"},"transform":[{"filter":"datum.p==='jugl'"}],"mark":{"type":"line","color":"#111","strokeWidth":2.8},"encoding":{"x":{"field":"d","type":"quantitative"},"y":{"field":"e","type":"quantitative"}}},
 {"data":{"name":"exag"},"transform":[{"filter":"datum.p==='jugl'"}],"mark":{"type":"line","color":"white","strokeWidth":1},"encoding":{"x":{"field":"d","type":"quantitative"},"y":{"field":"e","type":"quantitative"}}},
 {"data":{"values":[{}]},"mark":{"type":"rule","color":"#111","strokeWidth":2},"encoding":{"x":{"datum":-17,"type":"quantitative"},"x2":{"datum":1474},"y":{"datum":0,"type":"quantitative"}}},
 {"data":{"values":[{}]},"mark":{"type":"rule","color":"#111","strokeWidth":1.5},"encoding":{"x":{"datum":1455,"type":"quantitative"},"y":{"datum":0,"type":"quantitative"},"y2":{"datum":10}}},
 {"data":{"values":[{}]},"mark":{"type":"rule","color":"#111","strokeWidth":1.5},"encoding":{"x":{"datum":5,"type":"quantitative"},"y":{"datum":0,"type":"quantitative"},"y2":{"datum":10}}},
 {"data":{"name":"ticks"},"transform":[{"filter":"datum.p==='jugl'"}],"mark":{"type":"rule","color":"#111","strokeWidth":1.2},"encoding":{"x":{"datum":1455,"type":"quantitative"},"x2":{"datum":1464},"y":{"field":"v","type":"quantitative"}}},
 {"data":{"name":"ticks"},"transform":[{"filter":"datum.p==='jugl'"}],"mark":{"type":"rule","color":"#111","strokeWidth":1.2},"encoding":{"x":{"datum":5,"type":"quantitative"},"x2":{"datum":-2},"y":{"field":"v","type":"quantitative"}}},
 {"data":{"values":[{}]},"mark":{"type":"text","angle":226,"fontSize":23,"align":"left","baseline":"alphabetic","color":"#111"},"encoding":{"x":{"datum":-29,"type":"quantitative"},"y":{"datum":7,"type":"quantitative"},"text":{"value":"Juglans"}}}
]},
{"layer": [
 {"data":{"name":"area"},"transform":[{"filter":"datum.p==='pter'"}],"mark":{"type":"area","color":"#111"},"encoding":{"x":{"field":"d","type":"quantitative"},"y":{"field":"v","type":"quantitative","scale":{"domain":[0,15],"range":[1262,1229],"nice":false},"axis":null}}},
 {"data":{"values":[{}]},"mark":{"type":"rule","color":"#111","strokeWidth":2},"encoding":{"x":{"datum":-17,"type":"quantitative"},"x2":{"datum":1474},"y":{"datum":0,"type":"quantitative"}}},
 {"data":{"values":[{}]},"mark":{"type":"rule","color":"#111","strokeWidth":1.5},"encoding":{"x":{"datum":1455,"type":"quantitative"},"y":{"datum":0,"type":"quantitative"},"y2":{"datum":10}}},
 {"data":{"values":[{}]},"mark":{"type":"rule","color":"#111","strokeWidth":1.5},"encoding":{"x":{"datum":5,"type":"quantitative"},"y":{"datum":0,"type":"quantitative"},"y2":{"datum":10}}},
 {"data":{"name":"ticks"},"transform":[{"filter":"datum.p==='pter'"}],"mark":{"type":"rule","color":"#111","strokeWidth":1.2},"encoding":{"x":{"datum":1455,"type":"quantitative"},"x2":{"datum":1464},"y":{"field":"v","type":"quantitative"}}},
 {"data":{"name":"ticks"},"transform":[{"filter":"datum.p==='pter'"}],"mark":{"type":"rule","color":"#111","strokeWidth":1.2},"encoding":{"x":{"datum":5,"type":"quantitative"},"x2":{"datum":-2},"y":{"field":"v","type":"quantitative"}}},
 {"data":{"values":[{}]},"mark":{"type":"text","angle":226,"fontSize":23,"align":"left","baseline":"alphabetic","color":"#111"},"encoding":{"x":{"datum":-29,"type":"quantitative"},"y":{"datum":5,"type":"quantitative"},"text":{"value":"Pteridophytes"}}}
]},
{"layer": [
 {"data":{"name":"area"},"transform":[{"filter":"datum.p==='herb'"}],"mark":{"type":"area","color":"#111"},"encoding":{"x":{"field":"d","type":"quantitative"},"y":{"field":"v","type":"quantitative","scale":{"domain":[0,95.45],"range":[1472,1262],"nice":false},"axis":null}}},
 {"data":{"values":[{}]},"mark":{"type":"rule","color":"#111","strokeWidth":2},"encoding":{"x":{"datum":-17,"type":"quantitative"},"x2":{"datum":1474},"y":{"datum":0,"type":"quantitative"}}},
 {"data":{"values":[{}]},"mark":{"type":"rule","color":"#111","strokeWidth":1.5},"encoding":{"x":{"datum":1455,"type":"quantitative"},"y":{"datum":0,"type":"quantitative"},"y2":{"datum":90}}},
 {"data":{"values":[{}]},"mark":{"type":"rule","color":"#111","strokeWidth":1.5},"encoding":{"x":{"datum":5,"type":"quantitative"},"y":{"datum":0,"type":"quantitative"},"y2":{"datum":90}}},
 {"data":{"name":"ticks"},"transform":[{"filter":"datum.p==='herb'"}],"mark":{"type":"rule","color":"#111","strokeWidth":1.2},"encoding":{"x":{"datum":1455,"type":"quantitative"},"x2":{"datum":1464},"y":{"field":"v","type":"quantitative"}}},
 {"data":{"name":"ticks"},"transform":[{"filter":"datum.p==='herb'"}],"mark":{"type":"rule","color":"#111","strokeWidth":1.2},"encoding":{"x":{"datum":5,"type":"quantitative"},"x2":{"datum":-2},"y":{"field":"v","type":"quantitative"}}},
 {"data":{"name":"ticks"},"transform":[{"filter":"datum.p==='herb' && isValid(datum.lab)"}],"mark":{"type":"text","angle":270,"fontSize":14,"color":"#444","align":"center","baseline":"middle"},"encoding":{"x":{"datum":1494,"type":"quantitative"},"y":{"field":"v","type":"quantitative"},"text":{"field":"lab"}}},
 {"data":{"values":[{}]},"mark":{"type":"text","angle":226,"fontSize":23,"align":"left","baseline":"alphabetic","color":"#111"},"encoding":{"x":{"datum":-29,"type":"quantitative"},"y":{"datum":7.5,"type":"quantitative"},"text":{"value":"Sum of herbs"}}}
]},
{"layer": [
 {"data":{"name":"area"},"transform":[{"filter":"datum.p==='med'"}],"mark":{"type":"area","color":"#111"},"encoding":{"x":{"field":"d","type":"quantitative"},"y":{"field":"v","type":"quantitative","scale":{"domain":[0,45],"range":[1571,1472],"nice":false},"axis":null}}},
 {"data":{"values":[{}]},"mark":{"type":"rule","color":"#111","strokeWidth":2},"encoding":{"x":{"datum":-17,"type":"quantitative"},"x2":{"datum":1474},"y":{"datum":0,"type":"quantitative"}}},
 {"data":{"values":[{}]},"mark":{"type":"rule","color":"#111","strokeWidth":1.5},"encoding":{"x":{"datum":1455,"type":"quantitative"},"y":{"datum":0,"type":"quantitative"},"y2":{"datum":40}}},
 {"data":{"values":[{}]},"mark":{"type":"rule","color":"#111","strokeWidth":1.5},"encoding":{"x":{"datum":5,"type":"quantitative"},"y":{"datum":0,"type":"quantitative"},"y2":{"datum":40}}},
 {"data":{"name":"ticks"},"transform":[{"filter":"datum.p==='med'"}],"mark":{"type":"rule","color":"#111","strokeWidth":1.2},"encoding":{"x":{"datum":1455,"type":"quantitative"},"x2":{"datum":1464},"y":{"field":"v","type":"quantitative"}}},
 {"data":{"name":"ticks"},"transform":[{"filter":"datum.p==='med'"}],"mark":{"type":"rule","color":"#111","strokeWidth":1.2},"encoding":{"x":{"datum":5,"type":"quantitative"},"x2":{"datum":-2},"y":{"field":"v","type":"quantitative"}}},
 {"data":{"name":"ticks"},"transform":[{"filter":"datum.p==='med' && isValid(datum.lab)"}],"mark":{"type":"text","angle":270,"fontSize":14,"color":"#444","align":"center","baseline":"middle"},"encoding":{"x":{"datum":1494,"type":"quantitative"},"y":{"field":"v","type":"quantitative"},"text":{"field":"lab"}}},
 {"data":{"values":[{}]},"mark":{"type":"text","angle":226,"fontSize":23,"align":"left","baseline":"alphabetic","color":"#111"},"encoding":{"x":{"datum":-29,"type":"quantitative"},"y":{"datum":7.5,"type":"quantitative"},"text":{"value":"Mediterranean trees and shrubs"}}}
]},
{"layer": [
 {"data":{"name":"area"},"transform":[{"filter":"datum.p==='dec'"}],"mark":{"type":"area","color":"#111"},"encoding":{"x":{"field":"d","type":"quantitative"},"y":{"field":"v","type":"quantitative","scale":{"domain":[0,34.55],"range":[1647,1571],"nice":false},"axis":null}}},
 {"data":{"values":[{}]},"mark":{"type":"rule","color":"#111","strokeWidth":2},"encoding":{"x":{"datum":-17,"type":"quantitative"},"x2":{"datum":1474},"y":{"datum":0,"type":"quantitative"}}},
 {"data":{"values":[{}]},"mark":{"type":"rule","color":"#111","strokeWidth":1.5},"encoding":{"x":{"datum":1455,"type":"quantitative"},"y":{"datum":0,"type":"quantitative"},"y2":{"datum":30}}},
 {"data":{"values":[{}]},"mark":{"type":"rule","color":"#111","strokeWidth":1.5},"encoding":{"x":{"datum":5,"type":"quantitative"},"y":{"datum":0,"type":"quantitative"},"y2":{"datum":30}}},
 {"data":{"name":"ticks"},"transform":[{"filter":"datum.p==='dec'"}],"mark":{"type":"rule","color":"#111","strokeWidth":1.2},"encoding":{"x":{"datum":1455,"type":"quantitative"},"x2":{"datum":1464},"y":{"field":"v","type":"quantitative"}}},
 {"data":{"name":"ticks"},"transform":[{"filter":"datum.p==='dec'"}],"mark":{"type":"rule","color":"#111","strokeWidth":1.2},"encoding":{"x":{"datum":5,"type":"quantitative"},"x2":{"datum":-2},"y":{"field":"v","type":"quantitative"}}},
 {"data":{"name":"ticks"},"transform":[{"filter":"datum.p==='dec' && isValid(datum.lab)"}],"mark":{"type":"text","angle":270,"fontSize":14,"color":"#444","align":"center","baseline":"middle"},"encoding":{"x":{"datum":1494,"type":"quantitative"},"y":{"field":"v","type":"quantitative"},"text":{"field":"lab"}}},
 {"data":{"values":[{}]},"mark":{"type":"text","angle":226,"fontSize":23,"align":"left","baseline":"alphabetic","color":"#111"},"encoding":{"x":{"datum":-29,"type":"quantitative"},"y":{"datum":7.5,"type":"quantitative"},"text":{"value":"Deciduous trees"}}}
]},
{"layer": [
 {"data":{"name":"area"},"transform":[{"filter":"datum.p==='alt'"}],"mark":{"type":"area","color":"#111"},"encoding":{"x":{"field":"d","type":"quantitative"},"y":{"field":"v","type":"quantitative","scale":{"domain":[0,15.45],"range":[1681,1647],"nice":false},"axis":null}}},
 {"data":{"values":[{}]},"mark":{"type":"rule","color":"#111","strokeWidth":2},"encoding":{"x":{"datum":-17,"type":"quantitative"},"x2":{"datum":1474},"y":{"datum":0,"type":"quantitative"}}},
 {"data":{"values":[{}]},"mark":{"type":"rule","color":"#111","strokeWidth":1.5},"encoding":{"x":{"datum":1455,"type":"quantitative"},"y":{"datum":0,"type":"quantitative"},"y2":{"datum":10}}},
 {"data":{"values":[{}]},"mark":{"type":"rule","color":"#111","strokeWidth":1.5},"encoding":{"x":{"datum":5,"type":"quantitative"},"y":{"datum":0,"type":"quantitative"},"y2":{"datum":10}}},
 {"data":{"name":"ticks"},"transform":[{"filter":"datum.p==='alt'"}],"mark":{"type":"rule","color":"#111","strokeWidth":1.2},"encoding":{"x":{"datum":1455,"type":"quantitative"},"x2":{"datum":1464},"y":{"field":"v","type":"quantitative"}}},
 {"data":{"name":"ticks"},"transform":[{"filter":"datum.p==='alt'"}],"mark":{"type":"rule","color":"#111","strokeWidth":1.2},"encoding":{"x":{"datum":5,"type":"quantitative"},"x2":{"datum":-2},"y":{"field":"v","type":"quantitative"}}},
 {"data":{"values":[{}]},"mark":{"type":"text","angle":226,"fontSize":23,"align":"left","baseline":"alphabetic","color":"#111"},"encoding":{"x":{"datum":-29,"type":"quantitative"},"y":{"datum":5,"type":"quantitative"},"text":{"value":"Altitudinal trees"}}}
]},
{"layer": [
 {"data":{"name":"area"},"transform":[{"filter":"datum.p==='pinus'"}],"mark":{"type":"area","color":"#111"},"encoding":{"x":{"field":"d","type":"quantitative"},"y":{"field":"v","type":"quantitative","scale":{"domain":[0,75],"range":[1846,1681],"nice":false},"axis":null}}},
 {"data":{"values":[{}]},"mark":{"type":"rule","color":"#111","strokeWidth":2},"encoding":{"x":{"datum":-17,"type":"quantitative"},"x2":{"datum":1474},"y":{"datum":0,"type":"quantitative"}}},
 {"data":{"values":[{}]},"mark":{"type":"rule","color":"#111","strokeWidth":1.5},"encoding":{"x":{"datum":1455,"type":"quantitative"},"y":{"datum":0,"type":"quantitative"},"y2":{"datum":70}}},
 {"data":{"values":[{}]},"mark":{"type":"rule","color":"#111","strokeWidth":1.5},"encoding":{"x":{"datum":5,"type":"quantitative"},"y":{"datum":0,"type":"quantitative"},"y2":{"datum":70}}},
 {"data":{"name":"ticks"},"transform":[{"filter":"datum.p==='pinus'"}],"mark":{"type":"rule","color":"#111","strokeWidth":1.2},"encoding":{"x":{"datum":1455,"type":"quantitative"},"x2":{"datum":1464},"y":{"field":"v","type":"quantitative"}}},
 {"data":{"name":"ticks"},"transform":[{"filter":"datum.p==='pinus'"}],"mark":{"type":"rule","color":"#111","strokeWidth":1.2},"encoding":{"x":{"datum":5,"type":"quantitative"},"x2":{"datum":-2},"y":{"field":"v","type":"quantitative"}}},
 {"data":{"name":"ticks"},"transform":[{"filter":"datum.p==='pinus' && isValid(datum.lab)"}],"mark":{"type":"text","angle":270,"fontSize":14,"color":"#444","align":"center","baseline":"middle"},"encoding":{"x":{"datum":1494,"type":"quantitative"},"y":{"field":"v","type":"quantitative"},"text":{"field":"lab"}}},
 {"data":{"values":[{}]},"mark":{"type":"text","angle":226,"fontSize":23,"align":"left","baseline":"alphabetic","color":"#111"},"encoding":{"x":{"datum":-29,"type":"quantitative"},"y":{"datum":7.5,"type":"quantitative"},"text":{"value":"Pinus"}}}
]},
{"layer": [
 {"data":{"name":"area"},"transform":[{"filter":"datum.p==='conc'"}],"mark":{"type":"area","color":"#a0a0a0"},"encoding":{"x":{"field":"d","type":"quantitative"},"y":{"field":"v","type":"quantitative","scale":{"domain":[0,160000],"range":[2022,1846],"nice":false},"axis":null}}},
 {"data":{"name":"area"},"transform":[{"filter":"datum.p==='conc'"}],"mark":{"type":"line","color":"#111","strokeWidth":1.4},"encoding":{"x":{"field":"d","type":"quantitative"},"y":{"field":"v","type":"quantitative"}}},
 {"data":{"values":[{}]},"mark":{"type":"rule","color":"#111","strokeWidth":2},"encoding":{"x":{"datum":-17,"type":"quantitative"},"x2":{"datum":1474},"y":{"datum":0,"type":"quantitative"}}},
 {"data":{"values":[{}]},"mark":{"type":"rule","color":"#111","strokeWidth":1.5},"encoding":{"x":{"datum":1455,"type":"quantitative"},"y":{"datum":0,"type":"quantitative"},"y2":{"datum":150000}}},
 {"data":{"values":[{}]},"mark":{"type":"rule","color":"#111","strokeWidth":1.5},"encoding":{"x":{"datum":5,"type":"quantitative"},"y":{"datum":0,"type":"quantitative"},"y2":{"datum":150000}}},
 {"data":{"name":"ticks"},"transform":[{"filter":"datum.p==='conc'"}],"mark":{"type":"rule","color":"#111","strokeWidth":1.2},"encoding":{"x":{"datum":1455,"type":"quantitative"},"x2":{"datum":1464},"y":{"field":"v","type":"quantitative"}}},
 {"data":{"name":"ticks"},"transform":[{"filter":"datum.p==='conc'"}],"mark":{"type":"rule","color":"#111","strokeWidth":1.2},"encoding":{"x":{"datum":5,"type":"quantitative"},"x2":{"datum":-2},"y":{"field":"v","type":"quantitative"}}},
 {"data":{"name":"ticks"},"transform":[{"filter":"datum.p==='conc' && isValid(datum.lab)"}],"mark":{"type":"text","angle":270,"fontSize":14,"color":"#444","align":"center","baseline":"middle"},"encoding":{"x":{"datum":1494,"type":"quantitative"},"y":{"field":"v","type":"quantitative"},"text":{"field":"lab"}}},
 {"data":{"values":[{}]},"mark":{"type":"text","angle":270,"fontSize":18,"color":"#444","align":"center","baseline":"middle"},"encoding":{"x":{"datum":1547,"type":"quantitative"},"y":{"datum":79000,"type":"quantitative"},"text":{"value":"grains/g"}}},
 {"data":{"values":[{}]},"mark":{"type":"text","angle":226,"fontSize":23,"align":"left","baseline":"alphabetic","color":"#111"},"encoding":{"x":{"datum":-29,"type":"quantitative"},"y":{"datum":15000,"type":"quantitative"},"text":{"value":"Pollen concentration"}}}
]},
{"data":{"name":"zones"},"mark":{"type":"rule","color":"#111","strokeWidth":1.2},"encoding":{"x":{"field":"d","type":"quantitative"},"y":{"datum":641,"type":"quantitative","scale":{"domain":[0,2026],"range":[0,2026],"nice":false},"axis":null},"y2":{"datum":2022},"strokeDash":{"field":"s","type":"nominal","scale":{"domain":["solid","dashed"],"range":[[1,0],[9,5]]},"legend":null}}}
]
}
